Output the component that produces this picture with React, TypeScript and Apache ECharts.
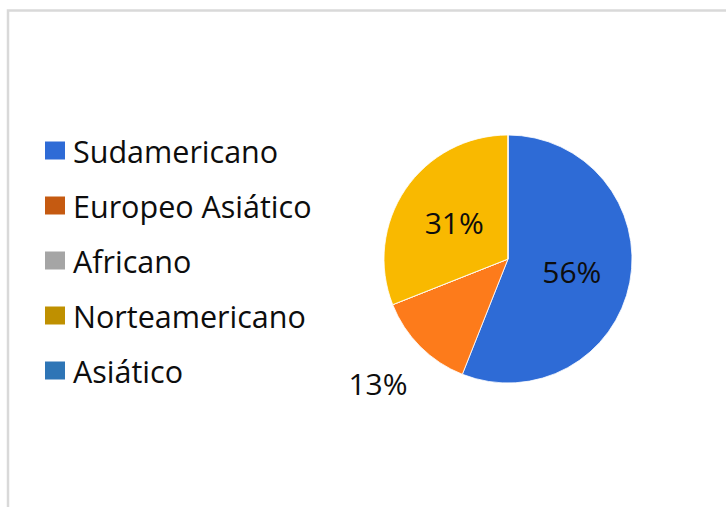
import React, { useEffect, useRef } from "react";
import * as echarts from "echarts";

const categories = ["Sudamericano", "Europeo Asiático", "Africano", "Norteamericano", "Asiático"];
const values = [56, 13, 0, 31, 0];
const sliceColors = ["#2E6BD6", "#FD7B1B", "#A5A5A5", "#F9B900", "#2E75B6"];
const legendColors = ["#2E6BD6", "#C55A11", "#A5A5A5", "#BF9000", "#2E75B6"];

export default function App() {
  const ref = useRef<HTMLDivElement>(null);
  useEffect(() => {
    if (!ref.current) return;
    const chart = echarts.init(ref.current, null, { renderer: "svg" });
    const font = "'Open Sans', 'Noto Sans', sans-serif";
    chart.setOption({
      animation: false,
      backgroundColor: "#ffffff",
      graphic: [
        {
          type: "rect",
          shape: { x: 8, y: 10.5, width: 760, height: 540 },
          style: { fill: "none", stroke: "#D9D9D9", lineWidth: 2.5 },
          silent: true,
        },
      ],
      legend: {
        orient: "vertical",
        left: 43,
        top: 135,
        padding: 0,
        itemWidth: 22,
        itemHeight: 20,
        itemGap: 24,
        icon: "rect",
        selectedMode: false,
        textStyle: { fontFamily: font, fontSize: 30.5, color: "#0d0d0d", padding: [0, 0, 0, 2] },
        data: categories.map((c, i) => ({ name: c, itemStyle: { color: legendColors[i] } })),
      },
      series: [
        {
          type: "pie",
          center: [508, 259],
          radius: 124,
          startAngle: 90,
          clockwise: true,
          avoidLabelOverlap: false,
          itemStyle: { borderColor: "#ffffff", borderWidth: 0.8 },
          label: {
            show: true,
            position: "inside",
            formatter: "{d}%",
            fontFamily: font,
            fontSize: 30,
            color: "#0d0d0d",
          },
          labelLine: { show: false },
          labelLayout: (params: any) => {
            if (params.dataIndex === 1) {
              return { x: 378, y: 383, align: "center", verticalAlign: "middle" };
            }
            return {};
          },
          data: categories.map((c, i) => ({
            name: c,
            value: values[i],
            itemStyle: { color: sliceColors[i] },
            label: values[i] === 0 ? { show: false } : { show: true },
          })),
        },
      ],
    });
    return () => chart.dispose();
  }, []);
  return (
    <div
      ref={ref}
      style={{ position: "fixed", left: 0, top: 0, width: 726, height: 507 }}
    />
  );
}
